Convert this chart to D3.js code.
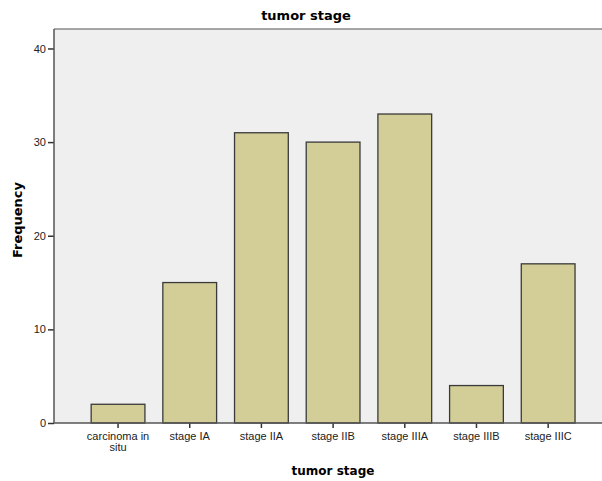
<!doctype html>
<html lang="en">
    <head>
        <meta charset="utf-8">
        <title>tumor stage</title>
        <script src="https://cdn.jsdelivr.net/npm/d3@7"></script>
        <style>
            body { margin: 0; background: #fff; }
            .tick text { font-family: "Liberation Sans", Arial, sans-serif; font-size: 11px; fill: #222; }
            .title { font-family: "DejaVu Sans", sans-serif; font-weight: bold; fill: #000; }
        </style>
    </head>
    <body>
        <script>
            var stages = ["carcinoma in situ", "stage IA", "stage IIA", "stage IIB", "stage IIIA", "stage IIIB", "stage IIIC"];
            var counts = [2, 15, 31, 30, 33, 4, 17];
            var yTicks = [0, 10, 20, 30, 40];

            var svgW = 602, svgH = 481;
            var plot = {left: 54, right: 602, top: 29, bottom: 423};

            var svg = d3.select("body").append("svg")
                        .attr("width", svgW)
                        .attr("height", svgH);

            var xScale = d3.scaleBand()
                           .domain(stages)
                           .range([82.2, 584])
                           .paddingInner(0.25)
                           .paddingOuter(0.125);
            var yScale = d3.scaleLinear()
                           .domain([0, 42.08])
                           .range([plot.bottom, plot.top]);

            // panel
            svg.append("rect")
               .attr("x", plot.left)
               .attr("y", plot.top)
               .attr("width", plot.right - plot.left)
               .attr("height", plot.bottom - plot.top)
               .attr("fill", "#efefef");
            svg.append("line")
               .attr("x1", plot.left).attr("x2", plot.right)
               .attr("y1", plot.top).attr("y2", plot.top)
               .attr("stroke", "#888").attr("stroke-width", 1.5);

            // bars
            svg.selectAll("rect.bar")
               .data(counts)
               .enter()
               .append("rect")
               .attr("class", "bar")
               .attr("x", (d, i) => xScale(stages[i]))
               .attr("width", xScale.bandwidth())
               .attr("y", d => yScale(d))
               .attr("height", d => yScale(0) - yScale(d))
               .attr("fill", "#d3ce97")
               .attr("stroke", "#3a3a3a")
               .attr("stroke-width", 1.3);

            // y axis
            var yAxis = d3.axisLeft(yScale).tickValues(yTicks).tickSize(6).tickPadding(2);
            var gy = svg.append("g")
                        .attr("transform", "translate(" + plot.left + ",0)")
                        .call(yAxis);
            gy.select(".domain").remove();
            gy.append("line")
              .attr("x1", 0).attr("x2", 0)
              .attr("y1", plot.top).attr("y2", plot.bottom)
              .attr("stroke", "#555").attr("stroke-width", 1.5);
            gy.selectAll(".tick line").attr("stroke", "#333").attr("stroke-width", 1.5);

            // x axis
            var xAxis = d3.axisBottom(xScale).tickSize(5).tickPadding(4);
            var gx = svg.append("g")
                        .attr("transform", "translate(0," + plot.bottom + ")")
                        .call(xAxis);
            gx.select(".domain").remove();
            gx.append("line")
              .attr("x1", plot.left).attr("x2", plot.right)
              .attr("y1", 0).attr("y2", 0)
              .attr("stroke", "#555").attr("stroke-width", 1.5);
            gx.selectAll(".tick line").attr("stroke", "#333").attr("stroke-width", 1.5);

            // wrap "carcinoma in situ" onto two lines
            gx.selectAll(".tick text").each(function(d) {
                var t = d3.select(this);
                if (d === "carcinoma in situ") {
                    t.text(null);
                    t.append("tspan").attr("x", 0).attr("dy", "0.71em").text("carcinoma in");
                    t.append("tspan").attr("x", 0).attr("dy", "11px").text("situ");
                    t.attr("dy", null);
                }
            });

            // titles
            svg.append("text")
               .attr("class", "title")
               .attr("x", 306).attr("y", 20)
               .attr("text-anchor", "middle")
               .attr("font-size", 13)
               .text("tumor stage");

            svg.append("text")
               .attr("class", "title")
               .attr("x", 333).attr("y", 475)
               .attr("text-anchor", "middle")
               .attr("font-size", 12)
               .text("tumor stage");

            svg.append("text")
               .attr("class", "title")
               .attr("transform", "translate(22,220) rotate(-90)")
               .attr("text-anchor", "middle")
               .attr("font-size", 13)
               .text("Frequency");
        </script>
    </body>
</html>
